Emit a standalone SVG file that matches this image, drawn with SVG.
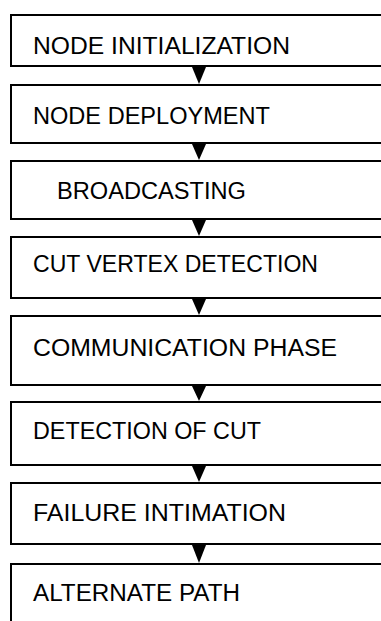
<svg xmlns="http://www.w3.org/2000/svg" width="381" height="621" viewBox="0 0 381 621">
  <style>
    .box { fill: #ffffff; stroke: #000000; stroke-width: 2; }
    .lbl { font-family: "Liberation Sans", Arial, sans-serif; font-size: 23.5px; fill: #000000; }
    .arrow { fill: #000000; }
  </style>
  <rect x="0" y="0" width="381" height="621" fill="#ffffff"/>

  <g id="n1"><rect class="box" x="11" y="15" width="400" height="51"/><text class="lbl" x="33" y="54" textLength="257" lengthAdjust="spacingAndGlyphs">NODE INITIALIZATION</text></g>
  <g id="n2"><rect class="box" x="11" y="85" width="400" height="58"/><text class="lbl" x="33" y="124" textLength="237" lengthAdjust="spacingAndGlyphs">NODE DEPLOYMENT</text></g>
  <g id="n3"><rect class="box" x="11" y="161" width="400" height="58"/><text class="lbl" x="57" y="199" textLength="189" lengthAdjust="spacingAndGlyphs">BROADCASTING</text></g>
  <g id="n4"><rect class="box" x="11" y="237" width="400" height="61"/><text class="lbl" x="33" y="272" textLength="285" lengthAdjust="spacingAndGlyphs">CUT VERTEX DETECTION</text></g>
  <g id="n5"><rect class="box" x="11" y="316" width="400" height="69"/><text class="lbl" x="33" y="356" textLength="304" lengthAdjust="spacingAndGlyphs">COMMUNICATION PHASE</text></g>
  <g id="n6"><rect class="box" x="11" y="402" width="400" height="63"/><text class="lbl" x="33" y="439" textLength="228" lengthAdjust="spacingAndGlyphs">DETECTION OF CUT</text></g>
  <g id="n7"><rect class="box" x="11" y="483" width="400" height="61"/><text class="lbl" x="33" y="521" textLength="253" lengthAdjust="spacingAndGlyphs">FAILURE INTIMATION</text></g>
  <g id="n8"><rect class="box" x="11" y="564" width="400" height="80"/><text class="lbl" x="33" y="601" textLength="207" lengthAdjust="spacingAndGlyphs">ALTERNATE PATH</text></g>

  <g id="connectors">
    <polygon class="arrow" points="192,67 206,67 199,84"/>
    <polygon class="arrow" points="192,144 206,144 199,160"/>
    <polygon class="arrow" points="192,220 206,220 199,236"/>
    <polygon class="arrow" points="192,299 206,299 199,315"/>
    <polygon class="arrow" points="192,386 206,386 199,401"/>
    <polygon class="arrow" points="192,466 206,466 199,482"/>
    <polygon class="arrow" points="192,545 206,545 199,563"/>
  </g>
</svg>
